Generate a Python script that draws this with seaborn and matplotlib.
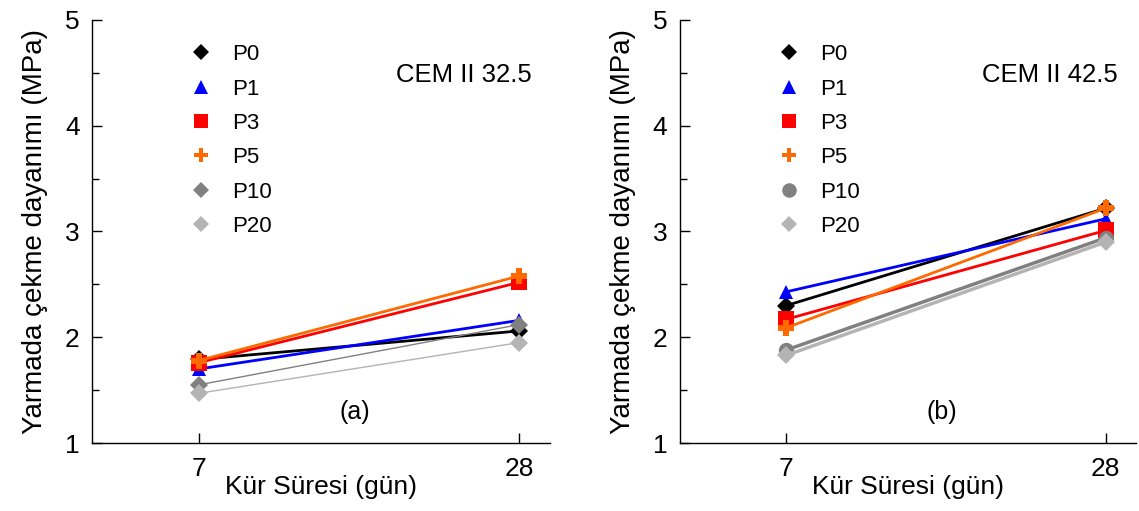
import numpy as np
import pandas as pd
import seaborn as sns
import matplotlib
matplotlib.use("Agg")
import matplotlib.pyplot as plt
from matplotlib.lines import Line2D
from matplotlib.ticker import MultipleLocator

sns.set_style("ticks")
plt.rcParams['font.family'] = ['Liberation Sans', 'DejaVu Sans']
plt.rcParams['text.color'] = 'black'
plt.rcParams['axes.labelcolor'] = 'black'
plt.rcParams['xtick.color'] = 'black'
plt.rcParams['ytick.color'] = 'black'

days = [7, 28]
series = ["P0", "P1", "P3", "P5", "P10", "P20"]

# CEM II 32.5
a_P0 = [1.79, 2.06]
a_P1 = [1.70, 2.16]
a_P3 = [1.76, 2.52]
a_P5 = [1.78, 2.58]
a_P10 = [1.55, 2.12]
a_P20 = [1.47, 1.95]

# CEM II 42.5
b_P0 = [2.30, 3.22]
b_P1 = [2.43, 3.12]
b_P3 = [2.17, 3.01]
b_P5 = [2.09, 3.22]
b_P10 = [1.88, 2.94]
b_P20 = [1.83, 2.90]

colors = {"P0": "black", "P1": "#0000FF", "P3": "#FF0000", "P5": "#FF6A00",
          "P10": "#808080", "P20": "#B4B4B4"}

panels = [
    dict(vals=[a_P0, a_P1, a_P3, a_P5, a_P10, a_P20], title="CEM II 32.5", tag="(a)",
         markers={"P0": "D", "P1": "^", "P3": "s", "P5": "P", "P10": "D", "P20": "D"},
         lw={"P0": 2, "P1": 2, "P3": 2, "P5": 2, "P10": 1, "P20": 1},
         rect=[92/1139, 1-443/511, (550-92)/1139, (443-20)/511]),
    dict(vals=[b_P0, b_P1, b_P3, b_P5, b_P10, b_P20], title="CEM II 42.5", tag="(b)",
         markers={"P0": "D", "P1": "^", "P3": "s", "P5": "P", "P10": "o", "P20": "D"},
         lw={"P0": 2, "P1": 2, "P3": 2, "P5": 2, "P10": 2.5, "P20": 2.5},
         rect=[680/1139, 1-443/511, (1136-680)/1139, (443-20)/511]),
]

msize = {"D": 9, "^": 10, "s": 11, "P": 11, "o": 11}

fig = plt.figure(figsize=(11.39, 5.11), dpi=100)

for p in panels:
    ax = fig.add_axes(p["rect"])
    handles = []
    for name, v in zip(series, p["vals"]):
        df = pd.DataFrame({"day": days, "val": v})
        m = p["markers"][name]
        sns.lineplot(data=df, x="day", y="val", ax=ax, color=colors[name],
                     linewidth=p["lw"][name], marker=m, markersize=msize[m],
                     markeredgewidth=0, legend=False)
        handles.append(Line2D([], [], linestyle="none", marker=m, color=colors[name],
                              markersize=msize[m] * 0.95, markeredgewidth=0, label=name))
    ax.set_xlim(0, 30)
    ax.set_ylim(1, 5)
    ax.set_xticks(days)
    ax.set_xticklabels([str(d) for d in days])
    ax.yaxis.set_major_locator(MultipleLocator(1))
    ax.yaxis.set_minor_locator(MultipleLocator(0.5))
    ax.tick_params(axis="both", which="major", direction="in", length=7, width=1,
                   labelsize=19, pad=9)
    ax.tick_params(axis="y", which="minor", direction="in", length=5, width=1)
    ax.tick_params(axis="x", pad=10)
    sns.despine(ax=ax)
    for s in ["left", "bottom"]:
        ax.spines[s].set_linewidth(1)
        ax.spines[s].set_color("black")
    ax.set_xlabel("Kür Süresi (gün)", fontsize=19, labelpad=-4)
    ax.set_ylabel("Yarmada çekme dayanımı (MPa)", fontsize=20, labelpad=12)
    ax.text(0.96, 0.87, p["title"], transform=ax.transAxes, fontsize=18.5,
            ha="right", va="center")
    ax.text(0.574, 0.073, p["tag"], transform=ax.transAxes, fontsize=18,
            ha="center", va="center")
    ax.legend(handles=handles, loc="upper left", bbox_to_anchor=(0.165, 0.99),
              frameon=False, fontsize=16, handletextpad=0.8, labelspacing=0.6,
              handlelength=1.2)

fig.savefig("out.png", dpi=100)
